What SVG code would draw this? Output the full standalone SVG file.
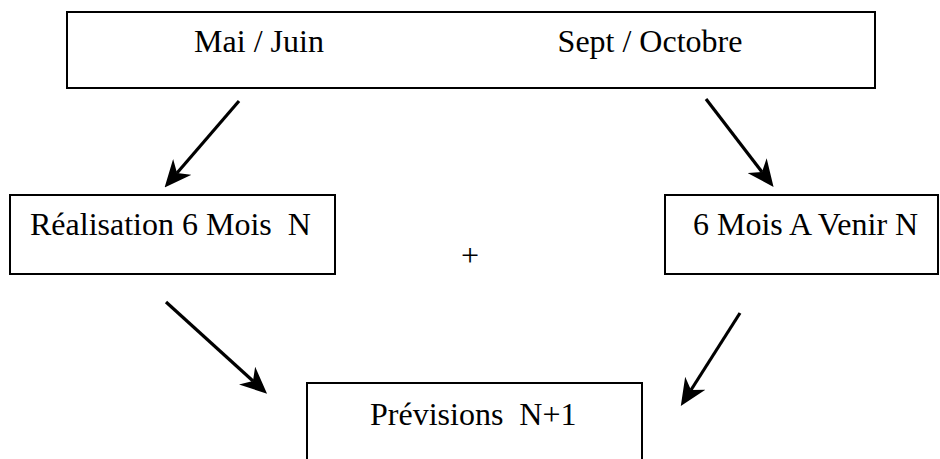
<svg xmlns="http://www.w3.org/2000/svg" width="940" height="459" viewBox="0 0 940 459">
  <style>
    .box { fill: #ffffff; stroke: #000000; stroke-width: 2; }
    .lbl { font-family: "Liberation Serif", "Times New Roman", serif; font-size: 32px; fill: #000000; white-space: pre; }
    .arrow { stroke: #000000; stroke-width: 3.2; fill: none; marker-end: url(#head); }
  </style>
  <defs>
    <marker id="head" markerUnits="userSpaceOnUse" viewBox="0 0 27 24" refX="8" refY="12" markerWidth="27" markerHeight="24" orient="auto">
      <path d="M0,0 L27,12 L0,24 L8,12 Z" fill="#000000"/>
    </marker>
  </defs>

  <rect width="940" height="459" fill="#ffffff"/>

  <g id="periods">
    <rect class="box" x="67" y="12" width="808" height="76"/>
    <text class="lbl" x="259" y="52" text-anchor="middle">Mai / Juin</text>
    <text class="lbl" x="650" y="52" text-anchor="middle">Sept / Octobre</text>
  </g>

  <g id="realisation">
    <rect class="box" x="10" y="195" width="325" height="79"/>
    <text class="lbl" x="30" y="235" xml:space="preserve">Réalisation 6 Mois  N</text>
  </g>

  <g id="avenir">
    <rect class="box" x="665" y="195" width="273" height="79"/>
    <text class="lbl" x="693" y="235">6 Mois A Venir N</text>
  </g>

  <g id="plus">
    <text class="lbl" x="470" y="266" text-anchor="middle">+</text>
  </g>

  <g id="previsions">
    <rect class="box" x="307" y="383" width="335" height="90"/>
    <text class="lbl" x="370" y="425" xml:space="preserve">Prévisions  N+1</text>
  </g>

  <g id="connectors">
    <line class="arrow" x1="239" y1="101" x2="177" y2="173"/>
    <line class="arrow" x1="706" y1="99" x2="762" y2="172"/>
    <line class="arrow" x1="166" y1="302" x2="253" y2="381"/>
    <line class="arrow" x1="740" y1="313" x2="691" y2="390"/>
  </g>
</svg>
